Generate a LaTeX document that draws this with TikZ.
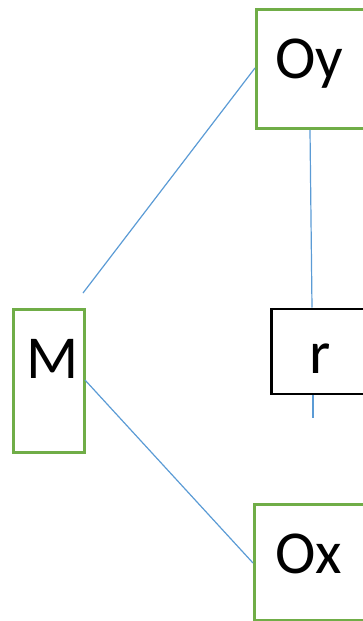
\documentclass[tikz,border=0pt]{standalone}
\usepackage{fontspec}
\setmainfont{Carlito}
\definecolor{boxgreen}{RGB}{112,173,71}
\definecolor{linkblue}{RGB}{91,155,213}
\begin{document}
\begin{tikzpicture}[x=1pt,y=-1pt,
  gbox/.style={draw=boxgreen, line width=3pt, rectangle, inner sep=0pt},
  kbox/.style={draw=black, line width=2.6pt, rectangle, inner sep=0pt},
  link/.style={draw=linkblue, line width=1.2pt},
  lbl/.style={anchor=base west, inner sep=0pt, font=\fontsize{61}{64}\selectfont}]
\useasboundingbox (0,0) rectangle (363,621);
\clip (0,0) rectangle (363,621);

% boxes
\node[gbox, minimum width=120pt, minimum height=119pt, anchor=north west] (oy) at (255,8) {};
\node[gbox, minimum width=71pt, minimum height=143pt, anchor=north west] (m) at (12,308) {};
\node[kbox, minimum width=110pt, minimum height=85pt, anchor=north west] (r) at (270,307.5) {};
\node[gbox, minimum width=120pt, minimum height=116pt, anchor=north west] (ox) at (253,503) {};

% labels
\node[lbl] (toy) at (275,78) {Oy};
\node[lbl] (tm) at (26,378) {M};
\node[lbl] (tr) at (309,373) {r};
\node[lbl] (tox) at (275,573) {Ox};

% connectors
\coordinate (mtop) at (83,293);
\coordinate (mright) at (85,380);
\coordinate (rbelow) at (313,418);
\draw[link] (mtop) -- (oy.north west |- 0,68);
\draw[link] (mright) -- (ox.north west |- 0,563);
\draw[link] (oy.south west -| 310,0) -- (r.north west -| 312,0);
\draw[link] (r.south west -| 313,0) -- (rbelow);
\end{tikzpicture}
\end{document}
